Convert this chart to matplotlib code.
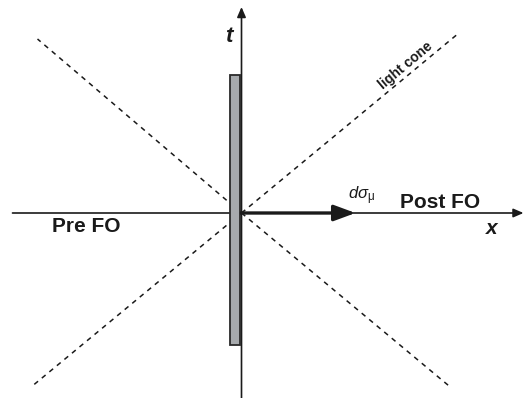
import matplotlib
matplotlib.use("Agg")
import matplotlib.pyplot as plt
from matplotlib.patches import Rectangle, FancyArrowPatch

plt.rcParams["mathtext.fontset"] = "custom"
plt.rcParams["mathtext.rm"] = "Liberation Sans"
plt.rcParams["mathtext.it"] = "Liberation Sans:italic"

# Coordinates: origin at the event, units roughly one pixel
cone_ends = [(-204, 174), (215, 178), (-208, -172), (210, -175)]
x_axis = (-229, 282)
t_axis = (-186, 206)
hypersurface = {"x0": -11.5, "width": 10.0, "y0": -132, "y1": 138}
normal_len = 114

fig = plt.figure(figsize=(5.28, 3.98), dpi=100)
ax = fig.add_axes([0, 0, 1, 1])
ax.set_xlim(-241.5, 286.5)
ax.set_ylim(-185, 213)
ax.axis("off")

ink = "#1a1a1a"

# light cone
for (ex, ey) in cone_ends:
    ax.plot([0, ex], [0, ey], ls=(0, (3.2, 3.2)), color=ink, lw=1.1)

# freeze-out hypersurface
ax.add_patch(Rectangle((hypersurface["x0"], hypersurface["y0"]),
                       hypersurface["width"],
                       hypersurface["y1"] - hypersurface["y0"],
                       facecolor="#a7aaad", edgecolor="#2a2a2a", lw=1.3, zorder=3))

# axes
ax.add_patch(FancyArrowPatch((x_axis[0], 0), (x_axis[1], 0),
                             arrowstyle="-|>,head_length=6,head_width=2.6",
                             color=ink, lw=1.2, mutation_scale=1, zorder=2,
                             shrinkA=0, shrinkB=0))
ax.add_patch(FancyArrowPatch((0, t_axis[0]), (0, t_axis[1]),
                             arrowstyle="-|>,head_length=6,head_width=2.6",
                             color=ink, lw=1.2, mutation_scale=1, zorder=4,
                             shrinkA=0, shrinkB=0))

# surface normal vector
ax.add_patch(FancyArrowPatch((0, 0), (normal_len, 0),
                             arrowstyle="-|>,head_length=13,head_width=4.8",
                             color=ink, lw=2.4, mutation_scale=1, zorder=5,
                             shrinkA=0, shrinkB=0))

bold = dict(family="Liberation Sans", weight="bold", color=ink)
ax.text(159, 11, "Post FO", fontsize=15, ha="left", va="center", **bold)
ax.text(-189, -13, "Pre FO", fontsize=15, ha="left", va="center", **bold)
ax.text(250, -15, "x", fontsize=15, style="italic", ha="center", va="center", **bold)
ax.text(-13, 176, "t", fontsize=16, style="italic", ha="center", va="center", **bold)
ax.text(164, 147, "light cone", fontsize=10, rotation=40,
        ha="center", va="center", rotation_mode="anchor", **bold)
ax.text(106, 17, r"$d\sigma_{\mathrm{\mu}}$", fontsize=12, ha="left", va="center",
        color=ink)

fig.savefig("out.png", dpi=100)
